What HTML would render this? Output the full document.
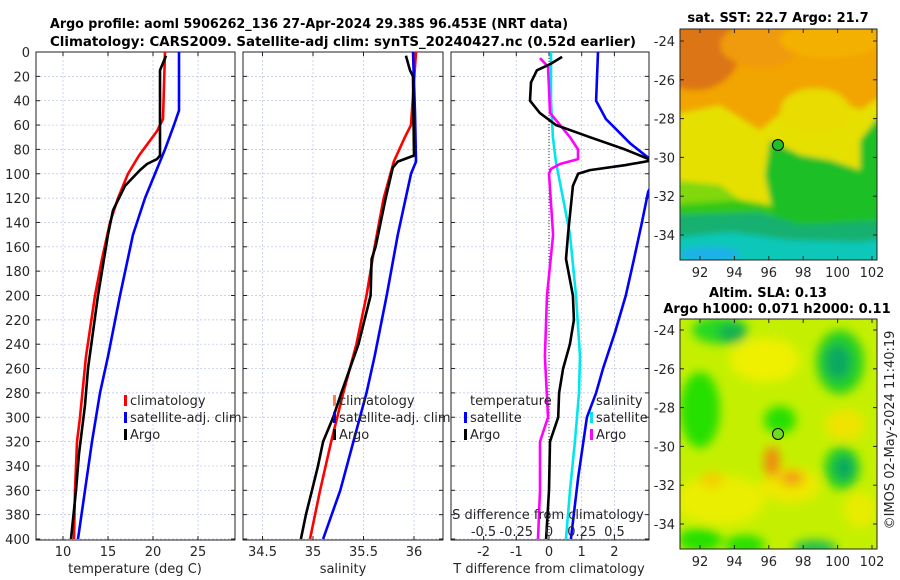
<!DOCTYPE html>
<html><head><meta charset="utf-8">
<style>
html,body{margin:0;padding:0;background:#fff;}
svg{display:block;font-family:"DejaVu Sans","Liberation Sans",sans-serif;}
.tk{font-size:13px;fill:#262626;}
.tt{font-size:13px;font-weight:bold;fill:#000;}
.grid{stroke:#b8c0e8;stroke-width:0.7;stroke-dasharray:2,2;}
</style></head>
<body>
<svg id="fig" width="900" height="580" viewBox="0 0 900 580">
<defs>
<clipPath id="c1"><rect x="36" y="52" width="199" height="488"/></clipPath>
<clipPath id="c2"><rect x="243" y="52" width="200" height="488"/></clipPath>
<clipPath id="c3"><rect x="451" y="52" width="198" height="488"/></clipPath>
<clipPath id="m1"><rect x="680" y="29" width="197" height="231"/></clipPath>
<clipPath id="m2"><rect x="680" y="319" width="197" height="230"/></clipPath>
<filter id="bl" x="-20%" y="-20%" width="140%" height="140%"><feGaussianBlur stdDeviation="3"/></filter>
<filter id="bl2" x="-30%" y="-30%" width="160%" height="160%"><feGaussianBlur stdDeviation="5"/></filter>
</defs>
<text class="tt" x="50" y="28" textLength="518" lengthAdjust="spacingAndGlyphs">Argo profile: aoml 5906262_136 27-Apr-2024 29.38S 96.453E (NRT data)</text>
<text class="tt" x="50" y="46" textLength="586" lengthAdjust="spacingAndGlyphs">Climatology: CARS2009. Satellite-adj clim: synTS_20240427.nc (0.52d earlier)</text>
<g id="panels"></g>

<!-- Map 1 -->
<g>
<g clip-path="url(#m1)">
<rect x="680" y="29" width="197" height="231" fill="#f2a400"/>
<g filter="url(#bl)">
<ellipse cx="695" cy="50" rx="45" ry="40" fill="#dc7414"/>
<ellipse cx="760" cy="45" rx="40" ry="22" fill="#f09a08"/>
<ellipse cx="830" cy="40" rx="50" ry="18" fill="#f4b000"/>
<polygon points="670,115 720,105 760,130 790,105 830,95 860,110 890,90 890,200 670,210" fill="#e6e000"/>
<ellipse cx="815" cy="110" rx="35" ry="22" fill="#e8dc00"/>
<polygon points="670,190 730,198 770,205 800,230 890,230 890,270 670,270" fill="#30c818"/>
<polygon points="770,140 800,155 830,160 860,170 860,140 880,115 890,115 890,235 780,235 770,200 765,175" fill="#1ec028"/>
<polygon points="670,180 720,185 740,200 670,205" fill="#80d810"/>
<polygon points="670,215 760,212 800,225 890,220 890,270 670,270" fill="#12b070"/>
<polygon points="670,238 730,232 790,240 860,242 890,238 890,270 670,270" fill="#10c8b8"/>
<ellipse cx="710" cy="254" rx="30" ry="7" fill="#1ab0e8"/>
</g>
</g>
<rect x="680" y="29" width="197" height="231" fill="none" stroke="#222" stroke-width="1"/>
<circle cx="778" cy="145" r="5.5" fill="#22c028" stroke="#000" stroke-width="1"/>
<text class="tt" x="778" y="22" text-anchor="middle">sat. SST: 22.7 Argo: 21.7</text>
</g>
<g id="mapaxes1"></g>

<!-- Map 2 -->
<g>
<g clip-path="url(#m2)">
<rect x="680" y="319" width="197" height="230" fill="#c4f000"/>
<g filter="url(#bl2)">
<ellipse cx="765" cy="360" rx="35" ry="22" fill="#eef000"/>
<ellipse cx="720" cy="500" rx="45" ry="25" fill="#eaee00"/>
<ellipse cx="790" cy="485" rx="30" ry="18" fill="#eee800"/>
<ellipse cx="845" cy="425" rx="20" ry="16" fill="#eee400"/>
<ellipse cx="860" cy="510" rx="16" ry="18" fill="#e8ec00"/>
<ellipse cx="700" cy="410" rx="20" ry="38" fill="#28e000"/>
<ellipse cx="720" cy="330" rx="28" ry="14" fill="#28d820"/>
<ellipse cx="732" cy="333" rx="14" ry="10" fill="#18b050"/>
<ellipse cx="840" cy="362" rx="24" ry="32" fill="#28d020"/>
<ellipse cx="838" cy="362" rx="13" ry="18" fill="#10a860"/>
<ellipse cx="780" cy="420" rx="16" ry="14" fill="#28e000"/>
<ellipse cx="842" cy="468" rx="18" ry="22" fill="#28d020"/>
<ellipse cx="844" cy="468" rx="10" ry="12" fill="#10a860"/>
<ellipse cx="700" cy="540" rx="22" ry="12" fill="#28e000"/>
<ellipse cx="745" cy="545" rx="20" ry="10" fill="#28e000"/>
<ellipse cx="815" cy="548" rx="22" ry="8" fill="#20c050"/>
<ellipse cx="772" cy="462" rx="8" ry="16" fill="#f08a10"/>
<ellipse cx="792" cy="478" rx="12" ry="8" fill="#f4a010"/>
<ellipse cx="712" cy="480" rx="12" ry="8" fill="#f4d000"/>
</g>
</g>
<rect x="680" y="319" width="197" height="230" fill="none" stroke="#222" stroke-width="1"/>
<circle cx="778" cy="434" r="5.5" fill="#70dc20" stroke="#000" stroke-width="1"/>
<text class="tt" x="768" y="297" text-anchor="middle">Altim. SLA: 0.13</text>
<text class="tt" x="777" y="313" text-anchor="middle">Argo h1000: 0.071 h2000: 0.11</text>
</g>
<g id="mapaxes2"></g>
<text class="tk" transform="translate(894,430) rotate(-90)" text-anchor="middle">©IMOS 02-May-2024 11:40:19</text>
</svg>
<script>
// ---------- data ----------
const depthTicks = [0,20,40,60,80,100,120,140,160,180,200,220,240,260,280,300,320,340,360,380,400];
const tempTicks = [10,15,20,25];
const salTicks = [34.5,35,35.5,36];
const tdiffTicks = [-2,-1,0,1,2];
const sdiffTicks = [-0.5,-0.25,0,0.25,0.5];
const sdiffLabels = ["-0.5","-0.25","0","0.25","0.5"];

const climTDepth = [0,55,65,75,85,100,120,140,170,200,250,300,320,360,400];
const climT = [21.33,21.11,20.44,19.44,18.44,17.22,16.11,15.22,14.33,13.56,12.56,11.89,11.56,11.33,11.22];
const satTDepth = [0,48,60,80,100,120,150,200,250,280,320,360,400];
const satT = [22.89,22.89,22.33,21.33,20.22,19.11,17.78,16.33,15.0,14.11,13.22,12.44,11.67];
const argoTDepth = [3,15,85,88,92,97,110,130,150,170,200,230,260,290,310,330,360,400];
const argoT = [21.44,20.78,20.78,20.44,19.33,18.56,16.89,15.56,15.0,14.56,13.89,13.33,12.78,12.44,12.11,11.78,11.44,10.89];

const climSDepth = [0,60,70,90,120,160,200,240,280,320,360,400];
const climS = [36.02,35.97,35.91,35.80,35.70,35.61,35.53,35.43,35.30,35.18,35.07,34.97];
const satSDepth = [0,50,90,100,150,200,250,280,320,360,400];
const satS = [35.99,36.01,36.02,35.97,35.84,35.73,35.61,35.53,35.40,35.27,35.10];
const argoSDepth = [3,15,20,85,90,95,120,160,170,200,240,280,300,320,340,360,380,400];
const argoS = [35.92,35.96,35.99,36.0,35.84,35.79,35.72,35.62,35.58,35.57,35.45,35.28,35.20,35.10,35.05,34.99,34.93,34.88];

const satTdDepth = [0,40,55,75,88,95,115,140,170,200,230,260,280,300,350,400];
const satTd = [1.50,1.44,1.74,2.48,3.09,3.4,3.03,2.84,2.60,2.35,2.02,1.65,1.44,1.16,0.89,0.67];
const argoTdDepth = [4,10,15,25,40,50,60,70,80,89,93,97,100,110,150,170,200,220,240,260,280,300,320,360,400];
const argoTd = [0.40,0.03,-0.37,-0.55,-0.58,-0.28,0.21,1.25,2.32,3.15,2.32,1.25,0.89,0.73,0.58,0.52,0.73,0.76,0.64,0.43,0.31,0.28,0.03,0,-0.09];
const satSdDepth = [0,40,70,90,120,150,200,250,280,300,320,360,400];
const satSd = [0.015,0.015,0.03,0.053,0.107,0.16,0.206,0.237,0.229,0.214,0.198,0.16,0.13];
const argoSdDepth = [5,12,30,50,60,70,80,88,92,96,100,150,200,250,300,320,360,400];
const argoSd = [-0.069,-0.008,0,0.008,0.084,0.16,0.221,0.221,0.084,0.015,0,0.031,-0.015,-0.031,-0.008,-0.069,-0.069,-0.084];

const lonTicks = [92,94,96,98,100,102];
const latTicks = [-24,-26,-28,-30,-32,-34];

// ---------- helpers ----------
const NS = "http://www.w3.org/2000/svg";
function mk(tag, attrs, parent){const e=document.createElementNS(NS,tag);for(const k in attrs)e.setAttribute(k,attrs[k]);parent.appendChild(e);return e;}
const yD = d => 52 + d*1.2175;
const xT = t => 63 + (t-10)*9;
const xS = s => 313 + (s-35)*101;
const xTd = v => 549 + v*32.7;
const xSd = v => 549 + v*131;

const root = document.getElementById('panels');
const panels = [
 {x0:36,x1:235,clip:'c1',ticks:tempTicks,fx:xT,labels:tempTicks.map(String),name:'temperature-panel',xlab:'temperature (deg C)',xlabX:135},
 {x0:243,x1:443,clip:'c2',ticks:salTicks,fx:xS,labels:salTicks.map(String),name:'salinity-panel',xlab:'salinity',xlabX:343},
 {x0:451,x1:649,clip:'c3',ticks:tdiffTicks,fx:xTd,labels:tdiffTicks.map(String),name:'difference-panel',xlab:'T difference from climatology',xlabX:549}
];
panels.forEach((p,pi)=>{
  const g = mk('g',{},root);
  
  
  depthTicks.forEach(d=>{
    const y=yD(d);
    mk('line',{x1:p.x0,x2:p.x1,y1:y,y2:y,class:'grid'},g);
    mk('line',{x1:p.x0,x2:p.x0+4,y1:y,y2:y,stroke:'#222'},g);
    mk('line',{x1:p.x1-4,x2:p.x1,y1:y,y2:y,stroke:'#222'},g);
  });
  p.ticks.forEach((t,i)=>{
    const x=p.fx(t);
    mk('line',{x1:x,x2:x,y1:52,y2:540,class:'grid'},g);
    mk('line',{x1:x,x2:x,y1:540,y2:536,stroke:'#222'},g);
    mk('line',{x1:x,x2:x,y1:52,y2:56,stroke:'#222'},g);
    const tx=mk('text',{x:x,y:556,'text-anchor':'middle',class:'tk'},g);
    tx.textContent=p.labels[i];
    
    
  });
  const xl=mk('text',{x:p.xlabX,y:573,'text-anchor':'middle',class:'tk'},g);
  xl.textContent=p.xlab;
  
  
  if(pi===0){
    depthTicks.forEach(d=>{
      const t=mk('text',{x:30,y:yD(d)+5,'text-anchor':'end',class:'tk'},g);
      t.textContent=String(d);
      
      
    });
  }
  mk('rect',{x:p.x0,y:52,width:p.x1-p.x0,height:488,fill:'none',stroke:'#222','stroke-width':1},g);
});
mk('line',{x1:xTd(0),x2:xTd(0),y1:52,y2:540,stroke:'#333','stroke-dasharray':'1,2'},root);

function line(depths, vals, fx, color, clip, name){
  const pts = depths.map((d,i)=>fx(vals[i]).toFixed(1)+','+yD(d).toFixed(1)).join(' ');
  const pl = mk('polyline',{points:pts,fill:'none',stroke:color,'stroke-width':2.6,'stroke-linejoin':'round','clip-path':'url(#'+clip+')'},root);
  
  
}
line(climTDepth,climT,xT,'#ff0000','c1','climatology-temperature-line');
line(satTDepth,satT,xT,'#0000ff','c1','satellite-temperature-line');
line(argoTDepth,argoT,xT,'#000000','c1','argo-temperature-line');
line(climSDepth,climS,xS,'#ff0000','c2','climatology-salinity-line');
line(satSDepth,satS,xS,'#0000ff','c2','satellite-salinity-line');
line(argoSDepth,argoS,xS,'#000000','c2','argo-salinity-line');
line(satSdDepth,satSd,xSd,'#00e5ee','c3','satellite-salinity-diff-line');
line(argoSdDepth,argoSd,xSd,'#ff00ff','c3','argo-salinity-diff-line');
line(satTdDepth,satTd,xTd,'#0000ff','c3','satellite-temperature-diff-line');
line(argoTdDepth,argoTd,xTd,'#000000','c3','argo-temperature-diff-line');

const st=mk('text',{x:548,y:519,'text-anchor':'middle',class:'tk'},root);
st.textContent='S difference from climatology';


sdiffTicks.forEach((v,i)=>{
  const t=mk('text',{x:xSd(v),y:536,'text-anchor':'middle',class:'tk'},root);
  t.textContent=sdiffLabels[i];
  
  
});

function legend(x,y,color,label){
  const g=mk('g',{},root);
  
  
  if(color) mk('rect',{x:x-6,y:y-10,width:3,height:11,fill:color},g);
  const t=mk('text',{x:x,y:y,class:'tk'},g);
  t.textContent=label;
}
legend(130,405,'#ff0000','climatology');
legend(130,422,'#0000ff','satellite-adj. clim');
legend(130,439,'#000000','Argo');
legend(339,405,'#ff7f50','climatology');
legend(339,422,'#0000ff','satellite-adj. clim');
legend(339,439,'#000000','Argo');
legend(470,405,null,'temperature');
legend(470,422,'#0000ff','satellite');
legend(470,439,'#000000','Argo');
legend(596,405,null,'salinity');
legend(596,422,'#00e5ee','satellite');
legend(596,439,'#ff00ff','Argo');

function mapAxes(id, top, bottom, yLat, labY){
  const g=document.getElementById(id);
  lonTicks.forEach(l=>{
    const x=700+(l-92)*17.2;
    mk('line',{x1:x,x2:x,y1:bottom,y2:bottom-4,stroke:'#222'},g);
    mk('line',{x1:x,x2:x,y1:top,y2:top+4,stroke:'#222'},g);
    const t=mk('text',{x:x,y:labY,'text-anchor':'middle',class:'tk'},g);
    t.textContent=String(l);
    
    
  });
  latTicks.forEach(l=>{
    const y=yLat(l);
    mk('line',{x1:680,x2:684,y1:y,y2:y,stroke:'#222'},g);
    mk('line',{x1:873,x2:877,y1:y,y2:y,stroke:'#222'},g);
    const t=mk('text',{x:675,y:y+5,'text-anchor':'end',class:'tk'},g);
    t.textContent=String(l);
    
    
  });
}
mapAxes('mapaxes1',29,260,l=>41+(-24-l)*19.4,277);
mapAxes('mapaxes2',319,549,l=>330+(-24-l)*19.4,566);
</script>
</body></html>
